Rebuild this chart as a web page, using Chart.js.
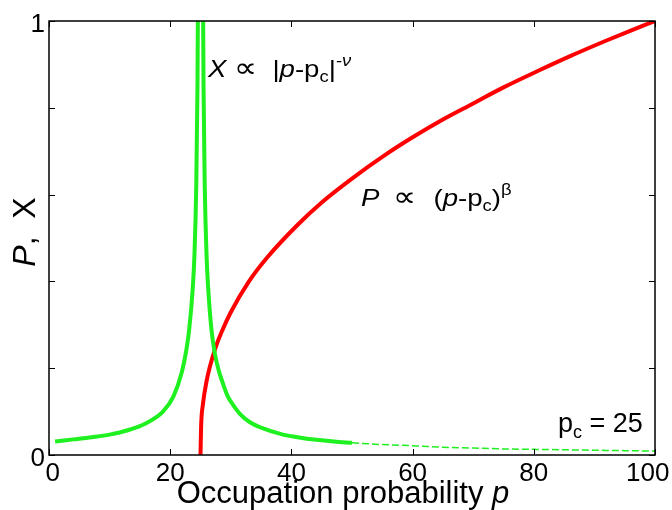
<!DOCTYPE html>
<html>
<head>
<meta charset="utf-8">
<script src="https://cdn.jsdelivr.net/npm/chart.js@4"></script>
<style>
  html, body { margin: 0; padding: 0; background: #fff; }
  #wrap { width: 672px; height: 510px; }
</style>
</head>
<body>
<div id="wrap"><canvas id="myChart" width="672" height="510"></canvas></div>
<script>
// ticks
const xTicks = [0, 20, 40, 60, 80, 100];
const xTickLabels = [' 0', '20', '40', '60', '80', '100  '];
const yTicks = [0, 0.2, 0.4, 0.6, 0.8, 1];
const yTickLabels = ['0', '', '', '', '', '1'];

// susceptibility, left of p_c
const chiLeftP   = [1, 4, 7, 10, 13, 16.1, 18.8, 20.5, 21.9, 22.7, 23.1, 23.7, 24.0, 24.3, 24.5, 24.6];
const chiLeftVal = [0.031, 0.036, 0.041, 0.047, 0.057, 0.074, 0.10, 0.134, 0.19, 0.245, 0.285, 0.38, 0.46, 0.62, 0.85, 1.1];

// susceptibility, right of p_c (solid part)
const chiRightP   = [25.4, 25.5, 25.7, 26.0, 26.2, 26.8, 27.35, 28.0, 28.7, 29.5, 30.4, 31.5, 33.1, 35, 38.6, 41, 44.1, 47, 50];
const chiRightVal = [1.1, 0.85, 0.62, 0.46, 0.40, 0.29, 0.235, 0.195, 0.165, 0.135, 0.115, 0.095, 0.076, 0.063, 0.047, 0.041, 0.035, 0.031, 0.028];

// susceptibility tail (dashed)
const chiTailP   = [50, 55, 60.6, 65, 70, 75, 80, 85, 90, 95, 100];
const chiTailVal = [0.028, 0.024, 0.021, 0.018, 0.016, 0.014, 0.013, 0.012, 0.011, 0.010, 0.009];

// order parameter
const orderP   = [25, 25.1, 25.4, 26, 26.5, 27.5, 28.5, 30, 33, 36, 41, 45, 50, 55, 60, 65, 70, 75, 81, 86, 92, 96, 100];
const orderVal = [0, 0.066, 0.117, 0.17, 0.201, 0.248, 0.284, 0.329, 0.40, 0.455, 0.53, 0.582, 0.637, 0.687, 0.732, 0.773, 0.81, 0.847, 0.887, 0.919, 0.955, 0.978, 1.0];

const fam = '"Liberation Sans", Arial, sans-serif';
const rm = (s) => s + 'px ' + fam;
const it = (s) => 'italic ' + s + 'px ' + fam;

const toPts = (xs, ys) => xs.map((v, i) => ({ x: v, y: ys[i] }));

function runs(ctx, x, y, parts) {
  parts.forEach((p) => {
    x += p.gap || 0;
    ctx.font = p.font;
    ctx.fillText(p.t, x, y + (p.dy || 0));
    x += ctx.measureText(p.t).width;
  });
}
function runsWidth(ctx, parts) {
  let w = 0;
  parts.forEach((p) => { ctx.font = p.font; w += (p.gap || 0) + ctx.measureText(p.t).width; });
  return w;
}
// text drawn a bit wider, like the original figure
function wideRuns(ctx, x, y, sx, parts) {
  ctx.save();
  ctx.translate(x, y);
  ctx.scale(sx, 1);
  runs(ctx, 0, 0, parts);
  ctx.restore();
}

const decor = {
  id: 'decor',
  afterDatasetsDraw(chart) {
    const { ctx, chartArea: a, scales: { x, y } } = chart;
    ctx.save();
    ctx.strokeStyle = '#000';
    ctx.lineWidth = 1.5;
    ctx.strokeRect(a.left, a.top, a.right - a.left, a.bottom - a.top);

    // inward tick marks on all four sides
    ctx.lineWidth = 1;
    ctx.beginPath();
    xTicks.forEach((v) => {
      const px = Math.round(x.getPixelForValue(v)) + 0.5;
      ctx.moveTo(px, a.bottom); ctx.lineTo(px, a.bottom - 6);
      ctx.moveTo(px, a.top); ctx.lineTo(px, a.top + 6);
    });
    yTicks.forEach((v) => {
      const py = Math.round(y.getPixelForValue(v)) + 0.5;
      ctx.moveTo(a.left, py); ctx.lineTo(a.left + 6, py);
      ctx.moveTo(a.right, py); ctx.lineTo(a.right - 6, py);
    });
    ctx.stroke();

    ctx.fillStyle = '#000';
    ctx.textBaseline = 'alphabetic';
    ctx.textAlign = 'left';

    wideRuns(ctx, 208, 77, 1.15, [
      { t: 'X', font: it(24) },
      { t: '\u221D', font: rm(28), gap: 7 },
      { t: '|', font: rm(24), gap: 13 },
      { t: 'p', font: it(24) },
      { t: '-p', font: rm(24) },
      { t: 'c', font: rm(16), dy: 5 },
      { t: '|', font: rm(24) },
      { t: '-\u03BD', font: it(16), dy: -11 }
    ]);

    wideRuns(ctx, 361, 206, 1.15, [
      { t: 'P', font: it(24) },
      { t: '\u221D', font: rm(28), gap: 12 },
      { t: '(', font: rm(24), gap: 15 },
      { t: 'p', font: it(24) },
      { t: '-p', font: rm(24) },
      { t: 'c', font: rm(16), dy: 5 },
      { t: ')', font: rm(24) },
      { t: '\u03B2', font: rm(16), dy: -11 }
    ]);

    runs(ctx, 558, 432, [
      { t: 'p', font: rm(27) },
      { t: 'c', font: rm(18), dy: 6 },
      { t: ' = 25', font: rm(27) }
    ]);

    // x title
    const xt = [
      { t: 'Occupation probability ', font: rm(31) },
      { t: 'p', font: it(31) }
    ];
    runs(ctx, 343 - runsWidth(ctx, xt) / 2, 503, xt);

    // y title
    const yt = [
      { t: 'P', font: it(32) },
      { t: ',  X', font: rm(32) }
    ];
    ctx.translate(35, 232);
    ctx.rotate(-Math.PI / 2);
    runs(ctx, -runsWidth(ctx, yt) / 2, 0, yt);
    ctx.restore();
  }
};

const ctx = document.getElementById('myChart').getContext('2d');
const chart = new Chart(ctx, {
  type: 'line',
  data: {
    datasets: [
      {
        label: 'chi left',
        data: toPts(chiLeftP, chiLeftVal),
        borderColor: '#1FF01F', borderWidth: 4, pointRadius: 0,
        cubicInterpolationMode: 'monotone', clip: 0
      },
      {
        label: 'chi right',
        data: toPts(chiRightP, chiRightVal),
        borderColor: '#1FF01F', borderWidth: 4, pointRadius: 0,
        cubicInterpolationMode: 'monotone', clip: 0
      },
      {
        label: 'chi tail',
        data: toPts(chiTailP, chiTailVal),
        borderColor: '#1FF01F', borderWidth: 1.5, borderDash: [7, 3], pointRadius: 0,
        cubicInterpolationMode: 'monotone', clip: 0
      },
      {
        label: 'P',
        data: toPts(orderP, orderVal),
        borderColor: '#FF0000', borderWidth: 4, pointRadius: 0,
        cubicInterpolationMode: 'monotone', clip: 0
      }
    ]
  },
  options: {
    responsive: false,
    animation: false,
    events: [],
    layout: { padding: { top: 21, right: 17, left: 0, bottom: 0 } },
    plugins: { legend: { display: false }, tooltip: { enabled: false } },
    scales: {
      x: {
        type: 'linear', min: 0, max: 100,
        afterBuildTicks: (s) => { s.ticks = xTicks.map((v) => ({ value: v })); },
        grid: { display: false, drawTicks: false },
        border: { display: false },
        ticks: {
          color: '#000', font: { family: fam, size: 26 }, padding: 3, maxRotation: 0,
          callback: (v, i) => xTickLabels[i]
        },
        afterFit: (s) => { s.height = 55; s.paddingLeft = 0; s.paddingRight = 0; }
      },
      y: {
        type: 'linear', min: 0, max: 1,
        afterBuildTicks: (s) => { s.ticks = yTicks.map((v) => ({ value: v })); },
        grid: { display: false, drawTicks: false },
        border: { display: false },
        ticks: {
          color: '#000', font: { family: fam, size: 26 }, padding: 4, labelOffset: 4,
          callback: (v, i) => yTickLabels[i]
        },
        afterFit: (s) => { s.width = 49; s.paddingTop = 0; s.paddingBottom = 0; }
      }
    }
  },
  plugins: [decor]
});
</script>
</body>
</html>
